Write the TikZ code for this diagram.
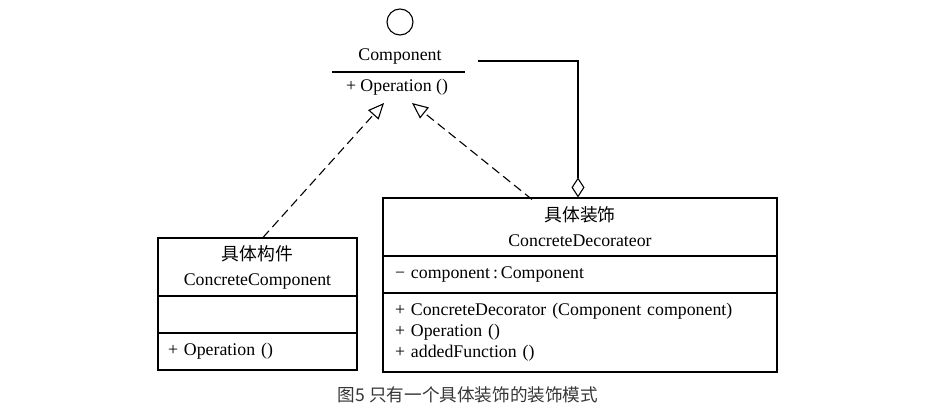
\documentclass[tikz,border=0pt]{standalone}
\usepackage{fontspec}
\setmainfont{Liberation Serif}
\newfontfamily\cjk{Noto Sans CJK SC}
\usetikzlibrary{arrows.meta,calc}
\definecolor{captiongray}{RGB}{55,55,55}
\tikzset{part/.style={draw,line width=1.1pt,inner ysep=0pt,minimum height=37pt,font=\fontsize{17.8}{21}\selectfont},titlepart/.style={part,align=center,minimum height=58pt,font=\fontsize{17.8}{25}\selectfont},memberpart/.style={part,align=left},realize/.style={line width=1.1pt,dash pattern=on 9pt off 5pt,-{Triangle[open,length=16pt,width=14pt,line width=1.1pt]}},hold/.style={line width=1.1pt,{Diamond[open,length=20pt,width=13pt,line width=1.1pt]}-}}
\begin{document}
\begin{tikzpicture}[x=1pt,y=-1pt]
\useasboundingbox (0,0) rectangle (935,417);
% interface
\node[draw,circle,line width=1.1pt,minimum size=26pt,inner sep=0pt] (iface) at (400,22) {};
\node[font=\fontsize{17.8}{21}\selectfont] (comp) at (400,57) {Component};
\draw[line width=1.1pt] (332,72) -- (465,72);
\node[font=\fontsize{17.8}{21}\selectfont] (compop) at (397,87) {+ Operation ()};
% concrete component
\node[titlepart,text width=179pt,inner xsep=10pt] (ctitle) at (257.5,267) {{\cjk 具体构件}\\ConcreteComponent};
\node[memberpart,text width=179pt,inner xsep=10pt] (cattr) at (257.5,314.5) {};
\node[memberpart,text width=179pt,inner xsep=10pt] (cops) at (257.5,351.5) {+ Operation ()};
% concrete decorator
\node[titlepart,text width=370pt,inner xsep=12pt] (dtitle) at (580,227) {{\cjk 具体装饰}\\ConcreteDecorateor};
\node[memberpart,text width=370pt,inner xsep=12pt] (dattr) at (580,274.5) {− component\,:\,Component};
\node[memberpart,text width=370pt,inner xsep=12pt,minimum height=79pt] (dops) at (580,332.5) {+ ConcreteDecorator (Component component)\\+ Operation ()\\+ addedFunction ()};
% connectors
\coordinate (tipl) at (384,103);
\coordinate (tipr) at (412,103);
\coordinate (agg) at (478,61);
\draw[realize] ([xshift=5.5pt]ctitle.north) -- (tipl);
\draw[realize] ([xshift=-48pt,yshift=-2pt]dtitle.north) -- (tipr);
\draw[hold] ([xshift=-2pt]dtitle.north) |- (agg);
\node[font=\cjk\fontsize{17.6}{20}\selectfont,text=captiongray] (caption) at (468,395) {图5 只有一个具体装饰的装饰模式};
\end{tikzpicture}
\end{document}
